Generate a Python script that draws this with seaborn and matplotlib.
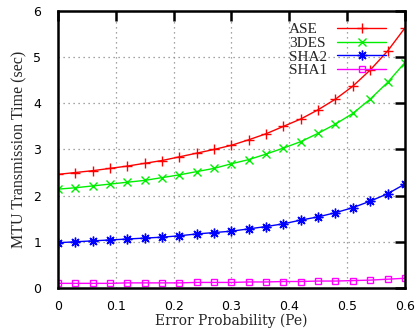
import matplotlib
matplotlib.use("Agg")
import matplotlib.pyplot as plt
import seaborn as sns
import pandas as pd

error_prob = [0.00, 0.03, 0.06, 0.09, 0.12, 0.15, 0.18, 0.21, 0.24, 0.27, 0.30,
              0.33, 0.36, 0.39, 0.42, 0.45, 0.48, 0.51, 0.54, 0.57, 0.60]
ase = [2.46, 2.50, 2.54, 2.59, 2.64, 2.70, 2.76, 2.84, 2.92, 3.00, 3.09,
       3.21, 3.34, 3.50, 3.66, 3.86, 4.09, 4.37, 4.72, 5.13, 5.63]
des3 = [2.14, 2.17, 2.21, 2.25, 2.29, 2.33, 2.39, 2.45, 2.52, 2.59, 2.69,
        2.78, 2.90, 3.03, 3.17, 3.35, 3.55, 3.78, 4.09, 4.45, 4.88]
sha2 = [0.98, 1.00, 1.02, 1.04, 1.06, 1.08, 1.10, 1.13, 1.17, 1.20, 1.23,
        1.28, 1.33, 1.39, 1.47, 1.54, 1.63, 1.74, 1.88, 2.04, 2.25]
sha1 = [0.10, 0.10, 0.10, 0.10, 0.11, 0.11, 0.11, 0.11, 0.12, 0.12, 0.12,
        0.13, 0.13, 0.14, 0.14, 0.15, 0.15, 0.16, 0.17, 0.19, 0.21]
series_names = ["ASE", "3DES", "SHA2", "SHA1"]
x_ticks = [0, 0.1, 0.2, 0.3, 0.4, 0.5, 0.6]
x_tick_labels = ["0", "0.1", "0.2", "0.3", "0.4", "0.5", "0.6"]
y_ticks = [0, 1, 2, 3, 4, 5, 6]

sns.set_theme(style="white")
plt.rcParams['font.family'] = ['DejaVu Sans']

fig = plt.figure(figsize=(4.2, 3.31), dpi=100)
ax = fig.add_axes([0.138, 0.130, 0.826, 0.837])

styles = {
    "ASE": dict(color="#ff0000", marker="+", ms=7, mew=1.0),
    "3DES": dict(color="#00ee00", marker="x", ms=6, mew=1.0),
    "SHA2": dict(color="#0000ff", marker=(8, 2, 0), ms=7, mew=1.0),
    "SHA1": dict(color="#ff00ff", marker="s", ms=5, mew=1.0, fillstyle="none"),
}
for name, vals in zip(series_names, [ase, des3, sha2, sha1]):
    df = pd.DataFrame({"p": error_prob, "t": vals})
    st = styles[name]
    sns.lineplot(data=df, x="p", y="t", ax=ax, label=name, color=st["color"],
                 marker=st["marker"], markersize=st["ms"], markeredgewidth=st["mew"],
                 markeredgecolor=st["color"], lw=1.0,
                 fillstyle=st.get("fillstyle", "full"))

ax.set_xlim(0, 0.6)
ax.set_ylim(0, 6)
ax.set_xticks(x_ticks)
ax.set_xticklabels(x_tick_labels)
ax.set_yticks(y_ticks)
for spine in ax.spines.values():
    spine.set_color("black")
    spine.set_linewidth(1.8)
ax.tick_params(direction="in", length=7, width=1.8, top=True, right=True,
               labelsize=9, colors="black")
ax.tick_params(axis="x", pad=9)
ax.tick_params(axis="y", pad=12)
ax.grid(True, linestyle=(0, (1, 3)), color="#888888", linewidth=0.9)

ax.set_xlabel("Error Probability (Pe)", family=["DejaVu Serif"], fontsize=10, labelpad=0)
ax.set_ylabel("MTU Transmission Time (sec)", family=["Liberation Serif", "DejaVu Serif"],
              fontsize=11.5, labelpad=4)

leg = ax.legend(loc="upper left", bbox_to_anchor=(0.666, 0.958), markerfirst=False,
                frameon=False, prop={"family": ["Liberation Serif", "DejaVu Serif"], "size": 11},
                handlelength=3.2, handletextpad=0.4, labelspacing=0.0,
                borderaxespad=0.0, borderpad=0.0)
# left-align labels while keeping line samples in one column
for col in leg._legend_handle_box.get_children():
    for row in col.get_children():
        row.mode = "expand"
        row.width = 97

fig.savefig("out.png", dpi=100)
